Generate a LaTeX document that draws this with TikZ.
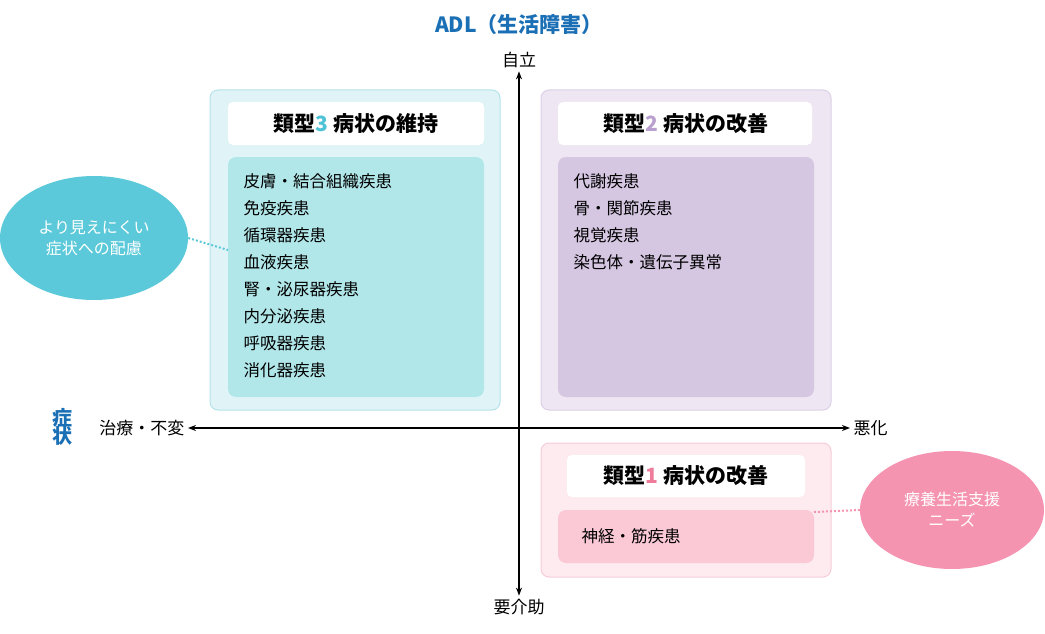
\documentclass[tikz,border=0pt]{standalone}
\usepackage{fontspec}
\setmainfont{Noto Sans CJK JP}
\usetikzlibrary{arrows.meta}
\definecolor{tblue}{HTML}{1A6FB5}
\definecolor{cyanbg}{HTML}{E0F4F7}\definecolor{cyanbd}{HTML}{B5E2EA}\definecolor{cyanin}{HTML}{B2E7EA}\definecolor{cyannum}{HTML}{4FC3D6}
\definecolor{purbg}{HTML}{EEE6F2}\definecolor{purbd}{HTML}{DCD0E6}\definecolor{purin}{HTML}{D5C6E2}\definecolor{purnum}{HTML}{B9A0CF}
\definecolor{pinkbg}{HTML}{FDEBF0}\definecolor{pinkbd}{HTML}{F6CCD8}\definecolor{pinkin}{HTML}{FBC9D6}\definecolor{pinknum}{HTML}{EE7C9A}
\definecolor{ellc}{HTML}{5BC9D9}\definecolor{ellp}{HTML}{F594B0}
\tikzset{
 outer/.style={rounded corners=8pt,line width=1pt},
 titlebox/.style={fill=white,rounded corners=5pt,draw=none},
 inner/.style={rounded corners=8pt,draw=none},
 ttl/.style={font=\fontsize{21}{24}\selectfont\bfseries},
 lst/.style={font=\fontsize{16.5}{27}\selectfont,align=left,anchor=north west},
 axl/.style={font=\fontsize{17}{20}\selectfont},
 ell/.style={ellipse,draw=none,text=white,font=\fontsize{16}{21}\selectfont,align=center}
}
\usetikzlibrary{shapes.geometric}
\begin{document}
\begin{tikzpicture}[x=1pt,y=-1pt]
\useasboundingbox (0,0) rectangle (1045,634);
% boxes
\draw[outer,fill=cyanbg,draw=cyanbd] (210,90) rectangle (500,410);
\fill[titlebox] (228,102) rectangle (484,145);
\fill[inner,fill=cyanin] (228,157) rectangle (484,397);
\node[ttl] (t3) at (356,124) {類型{\color{cyannum}3} 病状の維持};
\node[lst] (l3) at (240,170) {皮膚・結合組織疾患\\免疫疾患\\循環器疾患\\血液疾患\\腎・泌尿器疾患\\内分泌疾患\\呼吸器疾患\\消化器疾患};
\draw[outer,fill=purbg,draw=purbd] (541,90) rectangle (831,410);
\fill[titlebox] (558,102) rectangle (812,145);
\fill[inner,fill=purin] (558,157) rectangle (814,397);
\node[ttl] (t2) at (686,124) {類型{\color{purnum}2} 病状の改善};
\node[lst] (l2) at (570,170) {代謝疾患\\骨・関節疾患\\視覚疾患\\染色体・遺伝子異常};
\draw[outer,fill=pinkbg,draw=pinkbd] (541,443) rectangle (831,577);
\fill[titlebox] (567,455) rectangle (805,497);
\fill[inner,fill=pinkin] (558,510) rectangle (814,563);
\node[ttl] (t1) at (686,476) {類型{\color{pinknum}1} 病状の改善};
\node[lst,anchor=west] (l1) at (578,536) {神経・筋疾患};
% axes
\node[font=\fontsize{21}{24}\selectfont\bfseries,text=tblue] (adl) at (519,25) {ADL（生活障害）};
\node[axl] (top) at (519,60) {自立};
\node[axl] (bot) at (519,607) {要介助};
\node[axl,anchor=east] (lft) at (188,428) {治療・不変};
\node[axl,anchor=west] (rgt) at (850,428) {悪化};
\node[font=\fontsize{20}{22}\selectfont\bfseries,text=tblue,align=center] (sym) at (62,427) {症\\[-4pt]状};
\draw[line width=1.5pt,{Stealth[length=8pt]}-{Stealth[length=8pt]}] (top.south) -- (bot.north);
\draw[line width=1.5pt,{Stealth[length=8pt]}-{Stealth[length=8pt]}] (lft.east) -- (rgt.west);
% ellipses
\node[ell,fill=ellc,minimum width=188pt,minimum height=124pt] (e1) at (94,238) {より見えにくい\\症状への配慮};
\node[ell,fill=ellp,minimum width=184pt,minimum height=118pt] (e2) at (952,510) {療養生活支援\\ニーズ};
\coordinate (c1) at (228,250);
\coordinate (c2) at (814,512);
\draw[ellc,line width=2pt,dotted] (e1.east) -- (c1);
\draw[ellp,line width=2pt,dotted] (c2) -- (e2.west);
\end{tikzpicture}
\end{document}
